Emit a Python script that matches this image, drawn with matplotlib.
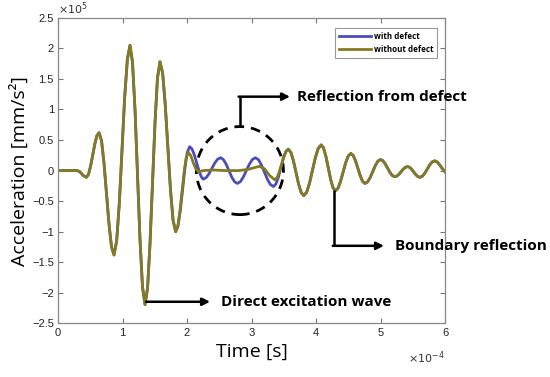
import matplotlib
matplotlib.use("Agg")
import matplotlib.pyplot as plt
import numpy as np
from matplotlib.patches import Ellipse

# time in units of 1e-4 s, acceleration in units of 1e5 mm/s^2
t_head = [0.0, 0.15, 0.30, 0.34, 0.39, 0.44, 0.473, 0.505, 0.538, 0.571, 0.603,
          0.636, 0.675, 0.713, 0.752, 0.791, 0.829, 0.868, 0.909, 0.951, 0.992,
          1.033, 1.075, 1.116, 1.155, 1.194, 1.233, 1.271, 1.310, 1.349, 1.388,
          1.426, 1.465, 1.504, 1.542, 1.581, 1.622, 1.662, 1.703, 1.743, 1.784, 1.824]
acc_head = [0.0, 0.0, 0.0, -0.02, -0.08, -0.11, -0.061, 0.073, 0.255, 0.437, 0.571,
            0.62, 0.486, 0.12, -0.38, -0.88, -1.246, -1.38, -1.15, -0.523, 0.335,
            1.193, 1.82, 2.05, 1.766, 0.99, -0.07, -1.13, -1.906, -2.19, -1.924,
            -1.198, -0.205, 0.788, 1.514, 1.78, 1.594, 1.085, 0.39, -0.305, -0.814, -1.0]

t_mid_without = [1.857, 1.889, 1.922, 1.955, 1.987, 2.02, 2.06, 2.10, 2.14, 2.18, 2.25,
                 2.40, 2.60, 2.80, 2.95, 3.05, 3.12, 3.20, 3.28, 3.36, 3.395, 3.43,
                 3.465, 3.50, 3.535]
acc_mid_without = [-0.913, -0.675, -0.35, -0.025, 0.213, 0.30, 0.24, 0.12, 0.02, -0.02, 0.0,
                   0.01, 0.0, 0.0, 0.02, 0.05, 0.07, 0.03, -0.08, -0.15, -0.117, -0.025,
                   0.1, 0.225, 0.317]

t_mid_with = [1.860, 1.896, 1.932, 1.968, 2.004, 2.04, 2.077, 2.113, 2.15, 2.187, 2.223,
              2.25, 2.295, 2.34, 2.385, 2.43, 2.475, 2.52, 2.563, 2.607, 2.65, 2.693,
              2.737, 2.78, 2.827, 2.873, 2.92, 2.967, 3.013, 3.06, 3.107, 3.153, 3.2,
              3.247, 3.293, 3.34, 3.378, 3.417, 3.455, 3.493, 3.532]
acc_mid_with = [-0.907, -0.653, -0.305, 0.043, 0.297, 0.39, 0.354, 0.258, 0.125, -0.008, -0.104,
                -0.14, -0.117, -0.053, 0.035, 0.123, 0.187, 0.21, 0.182, 0.105, 0.0, -0.105,
                -0.182, -0.21, -0.182, -0.105, 0.0, 0.105, 0.182, 0.21, 0.179, 0.093, -0.025,
                -0.143, -0.229, -0.26, -0.219, -0.108, 0.045, 0.198, 0.309]

t_tail = [3.57, 3.61, 3.65, 3.69, 3.73, 3.77, 3.81, 3.855, 3.90, 3.945, 3.99, 4.035,
          4.08, 4.117, 4.153, 4.19, 4.227, 4.263, 4.30, 4.34, 4.38, 4.42, 4.46, 4.50,
          4.54, 4.577, 4.613, 4.65, 4.687, 4.723, 4.76, 4.80, 4.84, 4.88, 4.92, 4.96,
          5.0, 5.037, 5.073, 5.11, 5.147, 5.183, 5.22, 5.253, 5.287, 5.32, 5.353, 5.387,
          5.42, 5.452, 5.483, 5.515, 5.547, 5.578, 5.61, 5.648, 5.687, 5.725, 5.763, 5.802,
          5.84, 5.88, 5.92, 5.96, 6.0]
acc_tail = [0.35, 0.299, 0.16, -0.03, -0.22, -0.359, -0.41, -0.354, -0.203, 0.005, 0.213, 0.364,
            0.42, 0.37, 0.233, 0.045, -0.143, -0.28, -0.33, -0.289, -0.178, -0.025, 0.128, 0.239,
            0.28, 0.247, 0.158, 0.035, -0.088, -0.177, -0.21, -0.184, -0.113, -0.015, 0.083, 0.154,
            0.18, 0.161, 0.11, 0.04, -0.03, -0.081, -0.10, -0.089, -0.059, -0.018, 0.024, 0.054,
            0.065, 0.053, 0.021, -0.023, -0.066, -0.098, -0.11, -0.092, -0.043, 0.025, 0.093, 0.142,
            0.16, 0.14, 0.09, 0.03, -0.02]

t_with = np.array(t_head + t_mid_with + t_tail)
acc_with = np.array(acc_head + acc_mid_with + acc_tail)
t_without = np.array(t_head + t_mid_without + t_tail)
acc_without = np.array(acc_head + acc_mid_without + acc_tail)

blue = "#4a4fb8"
olive = "#857a22"
label_font = "Open Sans"

fig = plt.figure(figsize=(5.5, 3.77), dpi=100)
ax = fig.add_axes([0.1055, 0.142, 0.7036, 0.811])

ax.plot(t_with, acc_with, color=blue, lw=2.0, label="with defect")
ax.plot(t_without, acc_without, color=olive, lw=2.0, label="without defect")

ax.set_xlim(0, 6)
ax.set_ylim(-2.5, 2.5)
ax.set_xticks(np.arange(0, 7, 1))
ax.set_yticks(np.arange(-2.5, 2.51, 0.5))
ax.set_yticklabels(["\u22122.5", "\u22122", "\u22121.5", "\u22121", "\u22120.5", "0",
                    "0.5", "1", "1.5", "2", "2.5"])
ax.tick_params(direction="in", top=True, right=True, length=3.5, width=0.8,
               color="#777777", labelsize=8, labelcolor="#222222", pad=3)
for lab in ax.get_xticklabels() + ax.get_yticklabels():
    lab.set_family("Liberation Sans")
for sp in ax.spines.values():
    sp.set_color("#888888")
    sp.set_linewidth(0.9)

ax.set_xlabel("Time [s]", fontsize=14, family=label_font, labelpad=4)
ax.set_ylabel("Acceleration [mm/s\u00b2]", fontsize=14, family=label_font, labelpad=2)

ax.text(0.0, 1.003, r"$\times10^{5}$", transform=ax.transAxes, fontsize=8,
        ha="left", va="bottom", color="#333333")
ax.text(1.0, -0.085, r"$\times10^{-4}$", transform=ax.transAxes, fontsize=8,
        ha="right", va="top", color="#333333")

leg = ax.legend(loc="upper right", bbox_to_anchor=(0.979, 0.966),
                handlelength=4.0, fancybox=False, framealpha=1, edgecolor="#999999",
                borderpad=0.45, labelspacing=0.55, handletextpad=0.3, borderaxespad=0,
                prop={"weight": "bold", "size": 5.8, "family": "Open Sans"})
leg.get_frame().set_linewidth(0.8)

# dashed circle around the defect reflection
circ = Ellipse((2.82, 0.0), width=1.35, height=1.44, fill=False, color="black",
               lw=2, ls=(0, (3.5, 2.5)))
ax.add_patch(circ)

arrow = dict(arrowstyle="-|>", color="black", lw=1.8, mutation_scale=11,
             shrinkA=0, shrinkB=0)
text_kw = dict(fontsize=11, fontweight="bold", family=label_font, va="center",
               ha="left", clip_on=False)

# direct excitation
ax.annotate("", xy=(2.357, -2.145), xytext=(1.364, -2.145), arrowprops=arrow)
ax.text(2.527, -2.145, "Direct excitation wave", **text_kw)

# reflection from defect
ax.plot([2.822, 2.822], [0.714, 1.209], color="black", lw=1.8, solid_capstyle="butt")
ax.annotate("", xy=(3.597, 1.209), xytext=(2.80, 1.209), arrowprops=arrow)
ax.text(3.705, 1.209, "Reflection from defect", **text_kw)

# boundary reflection
ax.plot([4.279, 4.279], [-0.315, -1.23], color="black", lw=1.8, solid_capstyle="butt")
ax.annotate("", xy=(5.054, -1.23), xytext=(4.26, -1.23), arrowprops=arrow,
            annotation_clip=False)
ax.text(5.225, -1.23, "Boundary reflection", **text_kw)

fig.savefig("out.png", dpi=100)
